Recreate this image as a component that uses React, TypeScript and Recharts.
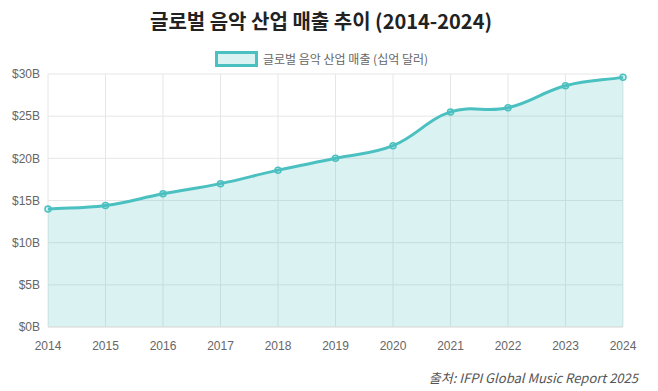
import { Area, AreaChart, CartesianGrid, XAxis, YAxis } from "recharts"

const years = ["2014", "2015", "2016", "2017", "2018", "2019", "2020", "2021", "2022", "2023", "2024"]
const revenue = [14.0, 14.4, 15.8, 17.0, 18.6, 20.0, 21.5, 25.5, 26.0, 28.6, 29.6]
const yTicks = [0, 5, 10, 15, 20, 25, 30]

const data = years.map((year, i) => ({ year, revenue: revenue[i] }))

const TEAL = "#4bc0c0"
const FONT = "'Liberation Sans', Arial, sans-serif"

// chart.js style spline (tension 0.4), as a d3 curve factory
function splineCurve(tension = 0.4) {
  return (context: any) => {
    let pts: number[][] = []
    let line = NaN
    return {
      areaStart() {
        line = 0
      },
      areaEnd() {
        line = NaN
      },
      lineStart() {
        pts = []
      },
      point(x: number, y: number) {
        pts.push([+x, +y])
      },
      lineEnd() {
        const n = pts.length
        if (n) {
          const cps = pts.map((cur, i) => {
            const prev = pts[i - 1] || cur
            const next = pts[Math.min(i + 1, n - 1)]
            const d01 = Math.hypot(cur[0] - prev[0], cur[1] - prev[1])
            const d12 = Math.hypot(next[0] - cur[0], next[1] - cur[1])
            let s01 = d01 / (d01 + d12)
            let s12 = d12 / (d01 + d12)
            if (isNaN(s01)) s01 = 0
            if (isNaN(s12)) s12 = 0
            const fa = tension * s01
            const fb = tension * s12
            return {
              c1: [cur[0] - fa * (next[0] - prev[0]), cur[1] - fa * (next[1] - prev[1])],
              c2: [cur[0] + fb * (next[0] - prev[0]), cur[1] + fb * (next[1] - prev[1])],
            }
          })
          if (line) context.lineTo(pts[0][0], pts[0][1])
          else context.moveTo(pts[0][0], pts[0][1])
          for (let i = 1; i < n; i++) {
            const a = cps[i - 1].c2
            const b = cps[i].c1
            context.bezierCurveTo(a[0], a[1], b[0], b[1], pts[i][0], pts[i][1])
          }
        }
        if (line || (line !== 0 && n === 1)) context.closePath()
        line = 1 - line
      },
    }
  }
}

export default function App() {
  return (
    <div style={{ position: "absolute", left: 0, top: 0, width: 658, height: 391, background: "#fff", fontFamily: FONT }}>
      <div
        style={{
          position: "absolute",
          top: 6,
          left: 0,
          width: 642,
          textAlign: "center",
          fontFamily: "'Noto Sans CJK KR', 'Noto Sans', sans-serif",
          fontWeight: 700,
          fontSize: 20,
          color: "#222",
        }}
      >
        글로벌 음악 산업 매출 추이 (2014-2024)
      </div>
      <div
        style={{
          position: "absolute",
          top: 50,
          left: 215,
          display: "flex",
          alignItems: "center",
          fontFamily: "'Noto Sans CJK KR', sans-serif",
          fontSize: 12,
          color: "#666",
        }}
      >
        <span
          style={{
            display: "inline-block",
            width: 37,
            height: 10,
            border: `3px solid ${TEAL}`,
            background: "rgba(75,192,192,0.2)",
            marginRight: 5,
            boxSizing: "content-box",
          }}
        />
        <span>글로벌 음악 산업 매출 (십억 달러)</span>
      </div>
      <div style={{ position: "absolute", left: 0, top: 0 }}>
        <AreaChart width={658} height={391} data={data} margin={{ top: 74, right: 35, bottom: 34, left: 8 }}>
          <CartesianGrid stroke="#e6e6e6" />
          <XAxis
            dataKey="year"
            height={30}
            tickLine={false}
            axisLine={{ stroke: "#e0e0e0" }}
            tick={{ fill: "#666", fontSize: 12, fontFamily: FONT }}
            tickMargin={8}
            interval={0}
          />
          <YAxis
            width={40}
            domain={[0, 30]}
            ticks={yTicks}
            tickFormatter={(v) => `$${v}B`}
            tickLine={false}
            axisLine={false}
            tick={{ fill: "#666", fontSize: 12, fontFamily: FONT }}
          />
          <Area
            type={splineCurve(0.4) as any}
            dataKey="revenue"
            stroke={TEAL}
            strokeWidth={3}
            fill="rgba(75,192,192,0.2)"
            fillOpacity={1}
            dot={{ r: 3, stroke: TEAL, strokeWidth: 1.5, fill: "rgba(75,192,192,0.2)", fillOpacity: 1 }}
            activeDot={false}
            isAnimationActive={false}
          />
        </AreaChart>
      </div>
      <div
        style={{
          position: "absolute",
          right: 20,
          top: 368,
          fontFamily: "'Noto Sans CJK KR', 'Noto Sans', sans-serif",
          fontStyle: "italic",
          fontSize: 13,
          color: "#555",
        }}
      >
        출처: IFPI Global Music Report 2025
      </div>
    </div>
  )
}
